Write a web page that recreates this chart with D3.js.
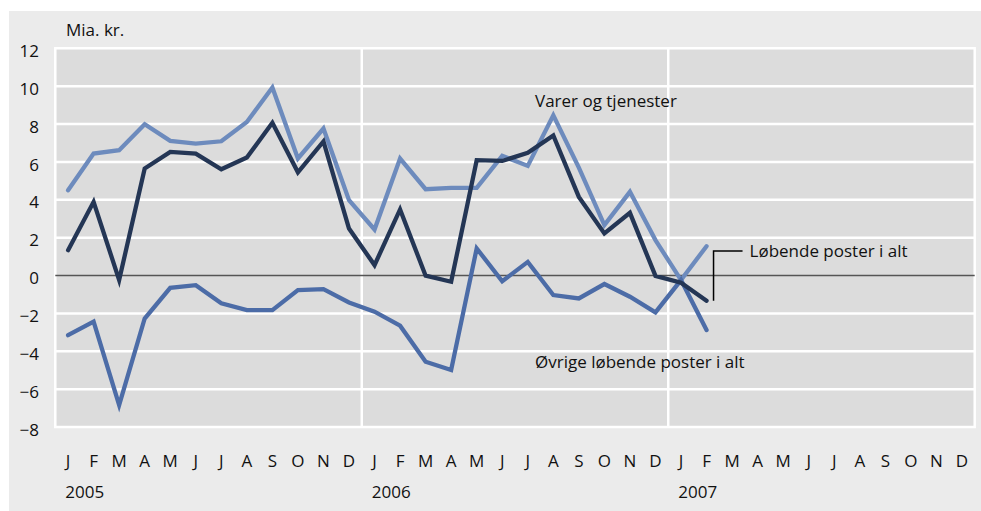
<!DOCTYPE html>
<html>
<head>
<meta charset="utf-8">
<script src="https://cdn.jsdelivr.net/npm/d3@7"></script>
<style>
  html, body { margin: 0; padding: 0; background: #ffffff; }
  svg { display: block; }
  text { font-family: "Open Sans", "Noto Sans", sans-serif; fill: #111; }
</style>
</head>
<body>
<svg id="chart" width="981" height="511"></svg>
<script>
// ---- Data ----
const monthLabels = ["J","F","M","A","M","J","J","A","S","O","N","D",
                     "J","F","M","A","M","J","J","A","S","O","N","D",
                     "J","F","M","A","M","J","J","A","S","O","N","D"];
const yearLabels = ["2005", "2006", "2007"];
const yTicks = [-8, -6, -4, -2, 0, 2, 4, 6, 8, 10, 12];

// Varer og tjenester (Jan 2005 - Feb 2007)
const varerOgTjenester = [4.5, 6.44, 6.62, 7.99, 7.11, 6.97, 7.09, 8.11, 9.93, 6.18, 7.76, 3.98,
                          2.43, 6.18, 4.56, 4.63, 4.63, 6.32, 5.79, 8.46, 5.7, 2.66, 4.42, 1.87,
                          -0.24, 1.55];
// Løbende poster i alt
const lobendePoster = [1.34, 3.89, -0.24, 5.65, 6.53, 6.44, 5.61, 6.23, 8.07, 5.45, 7.08, 2.48,
                       0.55, 3.49, -0.01, -0.33, 6.09, 6.05, 6.48, 7.4, 4.15, 2.22, 3.31, -0.02,
                       -0.38, -1.33];
// Øvrige løbende poster i alt
const ovrigePoster = [-3.15, -2.44, -6.84, -2.27, -0.65, -0.51, -1.47, -1.83, -1.83, -0.77, -0.72, -1.42,
                      -1.91, -2.65, -4.55, -4.99, 1.43, -0.30, 0.72, -1.03, -1.21, -0.45, -1.12, -1.95,
                      -0.24, -2.88];

// ---- Layout ----
const svg = d3.select("#chart");
const plot = { left: 55.3, right: 974.7, top: 48.3, bottom: 427 };
const fs = 17;

svg.append("rect").attr("x", 9).attr("y", 11).attr("width", 972).attr("height", 500)
  .attr("fill", "#ebebeb");

const x = d3.scaleBand().domain(d3.range(monthLabels.length))
  .range([plot.left, plot.right]).paddingInner(0).paddingOuter(0);
const y = d3.scaleLinear().domain([-8, 12]).range([plot.bottom, plot.top]);
const cx = i => x(i) + x.bandwidth() / 2;

// plot background
svg.append("rect")
  .attr("x", plot.left).attr("y", plot.top)
  .attr("width", plot.right - plot.left).attr("height", plot.bottom - plot.top)
  .attr("fill", "#dcdcdc").attr("stroke", "#ffffff").attr("stroke-width", 2.5);

// horizontal gridlines
svg.append("g").selectAll("line").data(yTicks.filter(d => d !== 0 && d !== -8 && d !== 12)).join("line")
  .attr("x1", plot.left).attr("x2", plot.right)
  .attr("y1", d => y(d)).attr("y2", d => y(d))
  .attr("stroke", "#ffffff").attr("stroke-width", 2.5);

// vertical year separators
svg.append("g").selectAll("line").data([12, 24]).join("line")
  .attr("x1", d => x(d)).attr("x2", d => x(d))
  .attr("y1", plot.top).attr("y2", plot.bottom)
  .attr("stroke", "#ffffff").attr("stroke-width", 2.5);

// zero line
svg.append("line")
  .attr("x1", plot.left).attr("x2", plot.right)
  .attr("y1", y(0)).attr("y2", y(0))
  .attr("stroke", "#555555").attr("stroke-width", 1.3);

// y axis labels
const yAxis = d3.axisLeft(y).tickValues(yTicks).tickSize(0).tickPadding(0);
const gy = svg.append("g").attr("transform", `translate(${39},0)`).call(yAxis);
gy.select(".domain").remove();
gy.selectAll("text").attr("font-size", fs).attr("fill", "#111")
  .attr("font-family", "'Open Sans', sans-serif").attr("dy", "0.48em");

// x axis month labels
const xAxis = d3.axisBottom(x).tickFormat(i => monthLabels[i]).tickSize(0).tickPadding(0);
const gx = svg.append("g").attr("transform", `translate(0,${461})`).call(xAxis);
gx.select(".domain").remove();
gx.selectAll("text").attr("font-size", fs).attr("fill", "#111")
  .attr("font-family", "'Open Sans', sans-serif").attr("dy", "0.35em");

// year labels
svg.append("g").selectAll("text").data(yearLabels).join("text")
  .attr("x", (d, i) => x(i * 12) + 10)
  .attr("y", 498)
  .attr("font-size", fs)
  .text(d => d);

// unit label
svg.append("text").attr("x", 66).attr("y", 36).attr("font-size", fs).text("Mia. kr.");

// lines
const line = d3.line().x((d, i) => cx(i)).y(d => y(d)).curve(d3.curveLinear);
const series = [
  { data: varerOgTjenester, color: "#6d8bbd" },
  { data: ovrigePoster, color: "#4c6ca7" },
  { data: lobendePoster, color: "#243655" }
];
svg.append("g").selectAll("path").data(series).join("path")
  .attr("d", d => line(d.data))
  .attr("fill", "none")
  .attr("stroke", d => d.color)
  .attr("stroke-width", 4.3)
  .attr("stroke-linejoin", "miter")
  .attr("stroke-linecap", "round");

// annotations
const lastIdx = lobendePoster.length - 1;
const ax = cx(lastIdx) + 7;
const ay = y(1.3);
svg.append("path")
  .attr("d", `M${ax},${y(lobendePoster[lastIdx])} L${ax},${ay} L${ax + 29},${ay}`)
  .attr("fill", "none").attr("stroke", "#000").attr("stroke-width", 1.5);
svg.append("text").attr("x", ax + 36).attr("y", ay + 6).attr("font-size", fs)
  .text("Løbende poster i alt");

svg.append("text").attr("x", 535).attr("y", 107).attr("font-size", fs)
  .text("Varer og tjenester");
svg.append("text").attr("x", 535).attr("y", 368).attr("font-size", fs)
  .text("Øvrige løbende poster i alt");
</script>
</body>
</html>
